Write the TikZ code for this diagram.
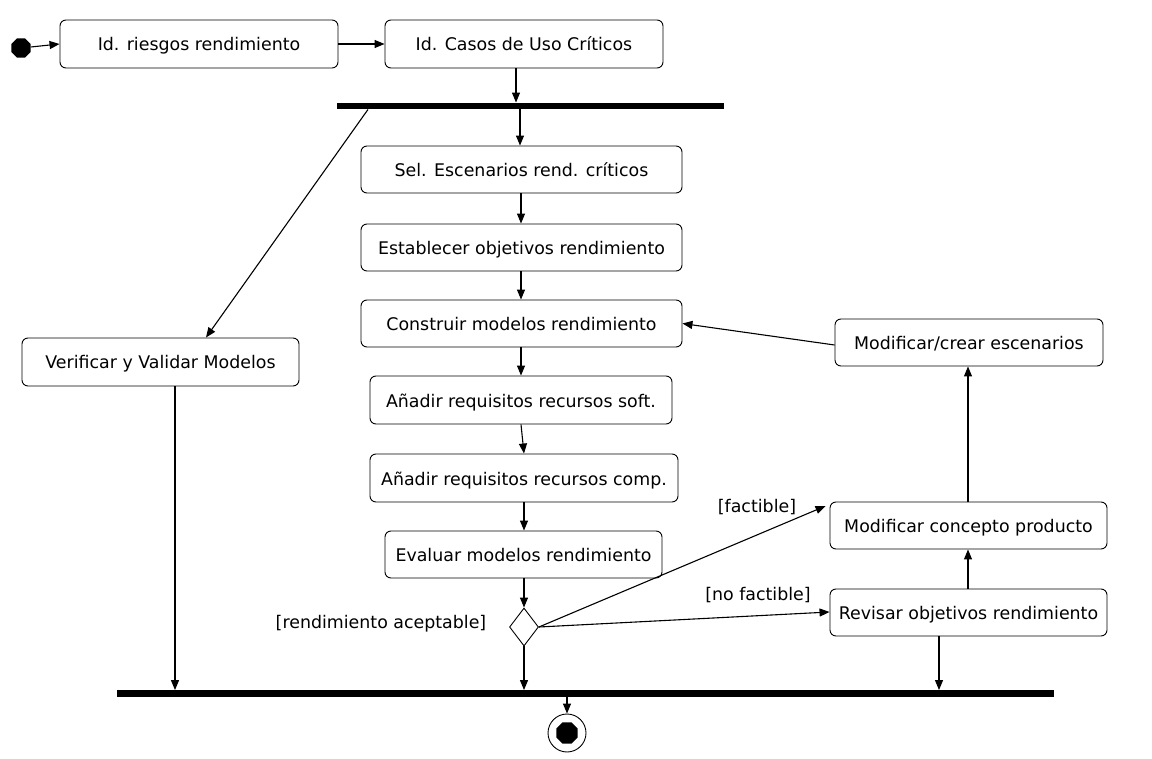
\documentclass[tikz,border=0pt]{standalone}
\usepackage{fontspec}
\setmainfont{DejaVu Sans}
\usetikzlibrary{arrows.meta,shapes.geometric,calc}
\begin{document}
\begin{tikzpicture}[x=1pt,y=-1pt,
  every node/.style={font=\fontsize{17.4}{20}\selectfont},
  act/.style={draw, rounded corners=6pt, line width=0.9pt, minimum height=48pt, inner sep=0pt, text height=16pt, text depth=2pt},
  bar/.style={fill=black, inner sep=0pt, minimum height=6.5pt},
  arr/.style={line width=1.1pt, -{Triangle[length=10pt,width=8pt]}},
  lbl/.style={inner sep=0pt, anchor=center}]
\useasboundingbox (0,0) rectangle (1152,759);
% start
\node[regular polygon, regular polygon sides=8, fill=black, minimum size=21pt, inner sep=0pt] (start) at (21,48) {};
% top row
\node[act, minimum width=278pt] (A) at (199,44) {Id. riesgos rendimiento};
\node[act, minimum width=278pt] (B) at (524,44) {Id. Casos de Uso Críticos};
% bars
\node[bar, minimum width=387pt] (bar1) at (530.5,106) {};
\node[bar, minimum width=937pt] (bar2) at (585.5,693.5) {};
% central column
\node[act, minimum width=321pt, minimum height=47pt] (C) at (521.5,169.5) {Sel. Escenarios rend. críticos};
\node[act, minimum width=321pt, minimum height=47pt] (D) at (521.5,247.5) {Establecer objetivos rendimiento};
\node[act, minimum width=321pt, minimum height=47pt] (E) at (521.5,323.5) {Construir modelos rendimiento};
\node[act, minimum width=302pt] (F) at (521,400) {Añadir requisitos recursos soft.};
\node[act, minimum width=308pt] (G) at (524,478) {Añadir requisitos recursos comp.};
\node[act, minimum width=277pt, minimum height=47pt] (H) at (523.5,554.5) {Evaluar modelos rendimiento};
\node[diamond, draw, line width=0.9pt, minimum width=29pt, minimum height=38pt, inner sep=0pt] (dec) at (524,627) {};
% left
\node[act, minimum width=277pt] (V) at (160.5,362) {Verificar y Validar Modelos};
% right
\node[act, minimum width=268pt, minimum height=47pt] (M) at (969,342.5) {Modificar/crear escenarios};
\node[act, minimum width=277pt, minimum height=47pt] (P) at (968.5,525.5) {Modificar concepto producto};
\node[act, minimum width=277pt, minimum height=47pt] (R) at (968.5,612.5) {Revisar objetivos rendimiento};
% end
\node[circle, draw, line width=0.9pt, minimum size=38pt, inner sep=0pt] (endo) at (567,733) {};
\node[regular polygon, regular polygon sides=8, fill=black, minimum size=23pt, inner sep=0pt] (endi) at (567,733) {};
% labels
\node[lbl] (l1) at (757,507) {[factible]};
\node[lbl] (l2) at (758,595) {[no factible]};
\node[lbl] (l3) at (381,624) {[rendimiento aceptable]};
% connectors
\draw[arr] (start) -- (A.west);
\draw[arr] (A.east) -- (B.west);
\draw[arr] ([xshift=-8pt]B.south) -- ([xshift=-8pt]B.south |- bar1.north);
\draw[arr] ([xshift=-1.5pt]C.north |- bar1.south) -- ([xshift=-1.5pt]C.north);
\draw[arr] ([xshift=-0.5pt]C.south) -- ([xshift=-0.5pt]D.north);
\draw[arr] ([xshift=-0.5pt]D.south) -- ([xshift=-0.5pt]E.north);
\draw[arr] ([xshift=-0.5pt]E.south) -- ([xshift=-0.5pt]E.south |- F.north);
\draw[arr] (F.south) -- ([xshift=3pt]F.south |- G.north);
\draw[arr] (G.south) -- (G.south |- H.north);
\draw[arr] ([xshift=0.5pt]H.south) -- (dec.north);
\draw[arr] (dec.south) -- (dec.south |- bar2.north);
\draw[arr] (bar2.south -| endo.north) -- (endo.north);
\draw[arr] ([xshift=-162.5pt]bar1.south) -- ([xshift=45.5pt]V.north);
\draw[arr] ([xshift=14.5pt]V.south) -- ([xshift=14.5pt]V.south |- bar2.north);
\draw[arr] (dec.east) -- ([xshift=-4pt,yshift=19.5pt]P.west);
\draw[arr] (dec.east) -- ([yshift=0.5pt]R.west);
\draw[arr] ([xshift=-29.5pt]R.south) -- ([xshift=-29.5pt]R.south |- bar2.north);
\draw[arr] ([xshift=-0.5pt]R.north) -- ([xshift=-0.5pt]P.south);
\draw[arr] ([xshift=-0.5pt]P.north) -- ([xshift=-0.5pt]P.north |- M.south);
\draw[arr] ([yshift=-2.5pt]M.west) -- (E.east);
\end{tikzpicture}
\end{document}
